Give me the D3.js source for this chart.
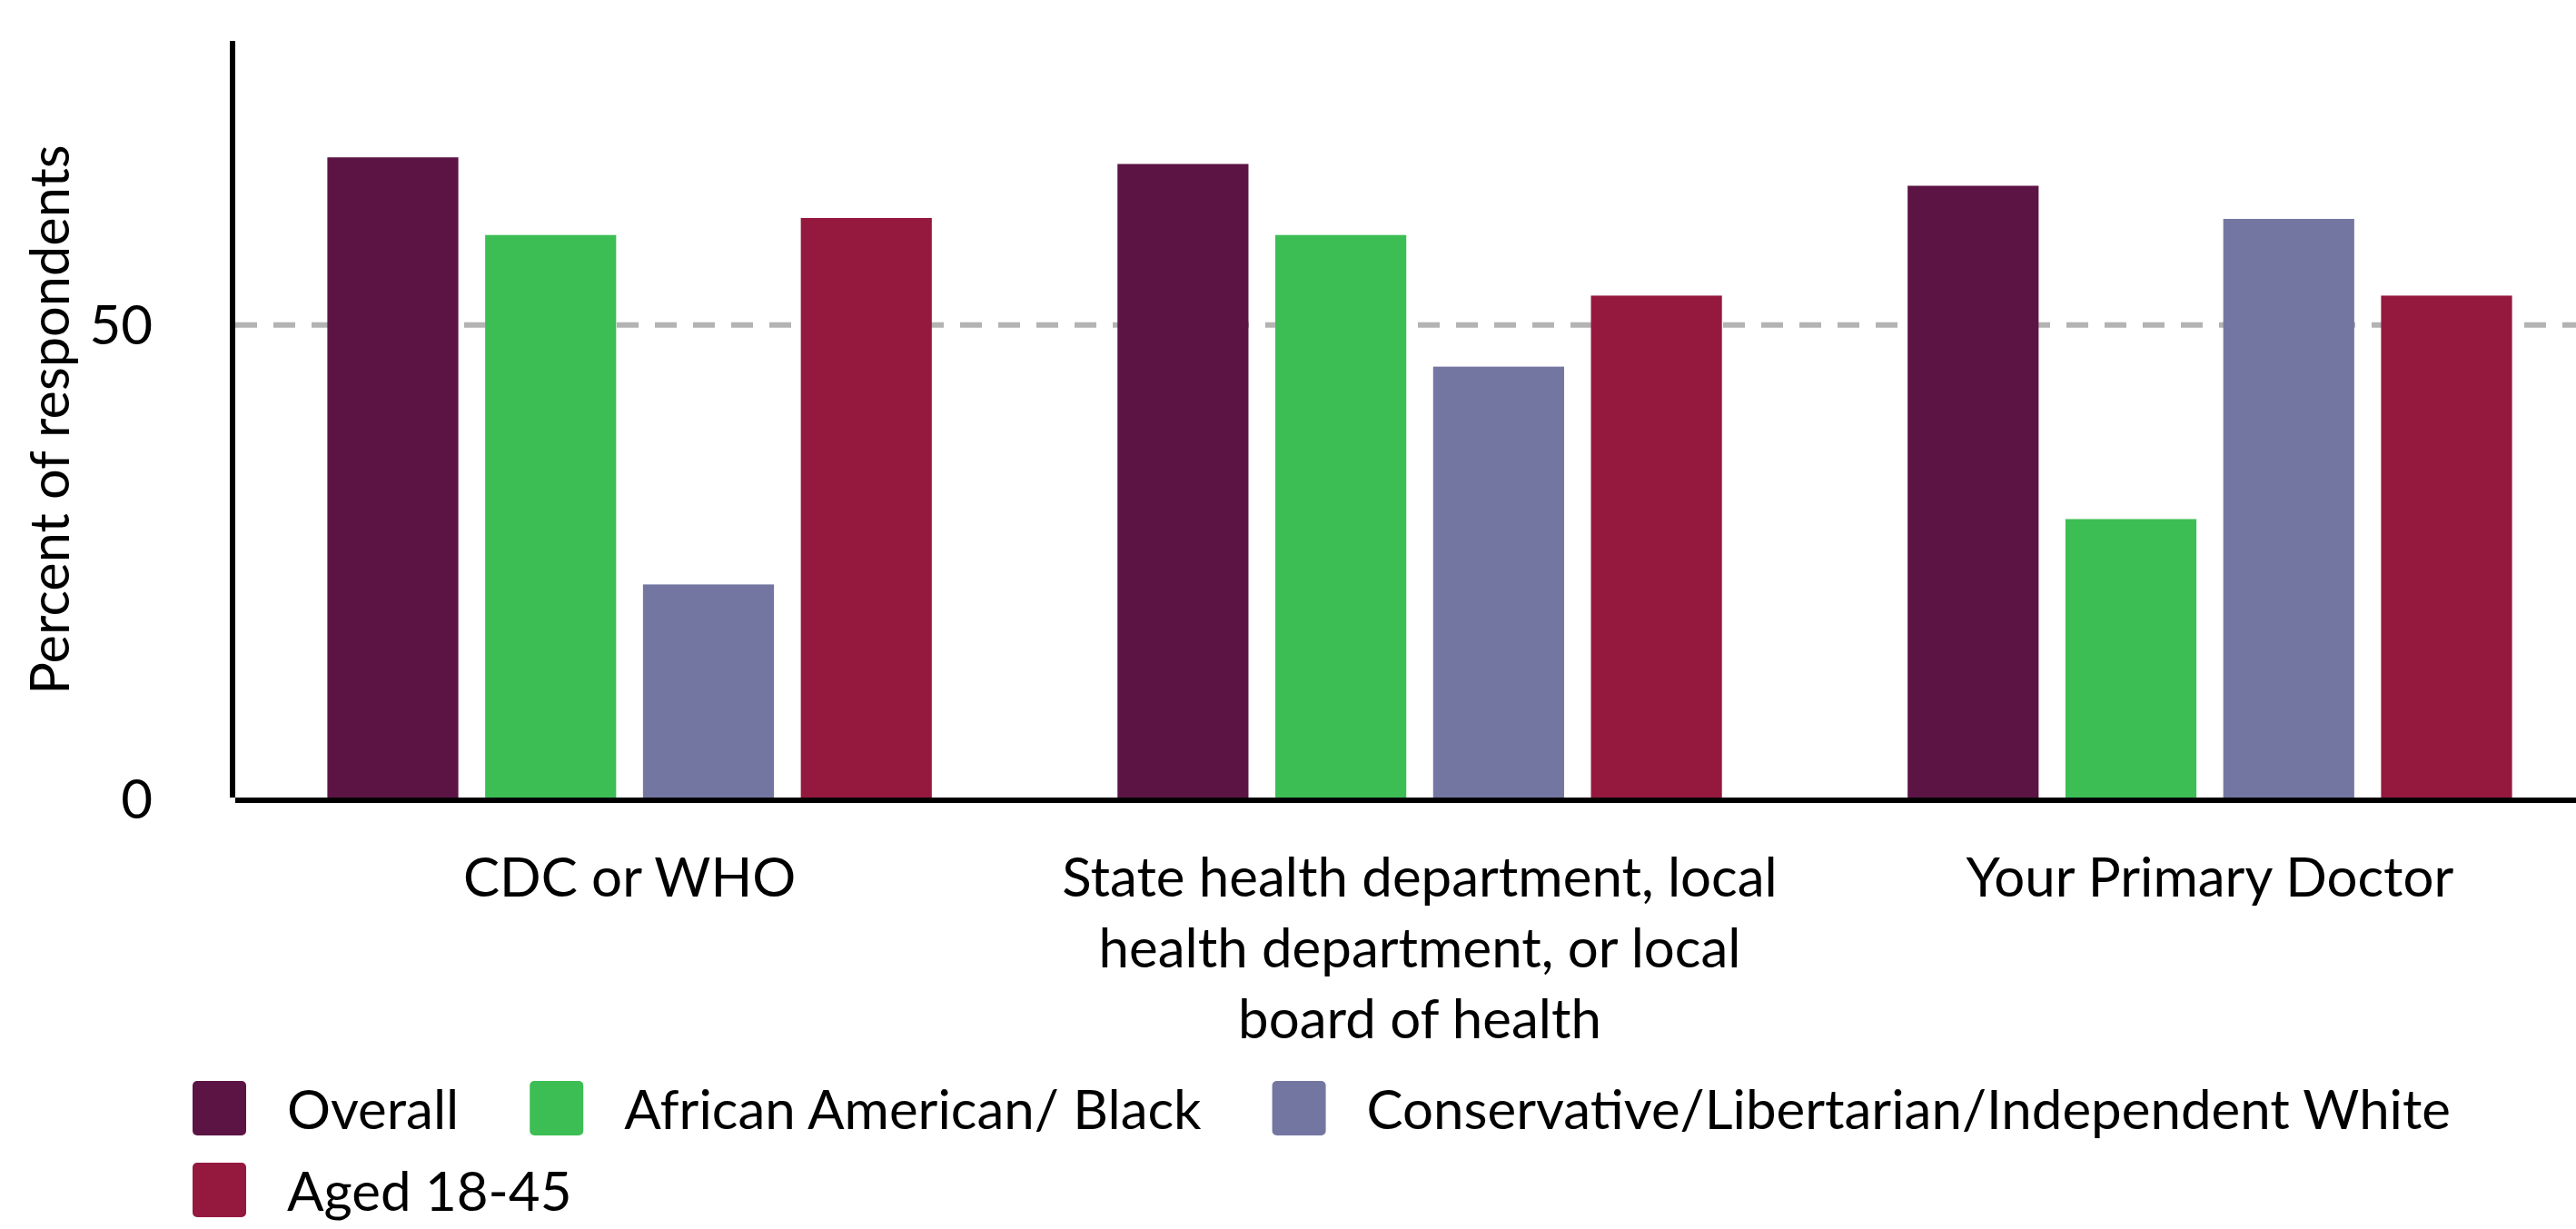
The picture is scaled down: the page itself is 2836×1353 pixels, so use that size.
<!DOCTYPE html>
<html>
<head>
<meta charset="utf-8">
<script src="https://cdn.jsdelivr.net/npm/d3@7"></script>
<style>
  body { margin: 0; background: #fff; }
  text { font-family: Lato, "Open Sans", sans-serif; fill: #000; }
</style>
</head>
<body>
<div id="chart"></div>
<script>
// data
const categories = ['CDC or WHO', 'State health department, local health department, or local board of health', 'Your Primary Doctor'];
const seriesNames = ['Overall', 'African American/ Black', 'Conservative/Libertarian/Independent White', 'Aged 18-45'];
const seriesColors = ['#5c1445', '#3cbe54', '#7476a2', '#95193f'];
const overall = [67.7, 67.0, 64.7];
const africanAmerican = [59.5, 59.5, 29.5];
const conservativeWhite = [22.6, 45.6, 61.2];
const aged18to45 = [61.3, 53.1, 53.1];
const yTicks = [0, 50];
const refLine = 50;

const width = 2836, height = 1353;
const seriesValues = [overall, africanAmerican, conservativeWhite, aged18to45];

const svg = d3.select('#chart').append('svg')
  .attr('width', width)
  .attr('height', height);

const axisX = 256, baseY = 879, topY = 45;

let y = d3.scaleLinear().domain([0, 80]).range([baseY, topY]);

let x0 = d3.scaleBand()
  .domain(categories)
  .range([axisX, 2870])
  .paddingInner(0.235)
  .paddingOuter(0.12);

let x1 = d3.scaleBand()
  .domain(seriesNames)
  .range([0, x0.bandwidth()])
  .paddingInner(0.17)
  .paddingOuter(0);

// reference line (behind bars)
svg.append('line')
  .attr('x1', axisX + 3).attr('x2', width)
  .attr('y1', y(refLine)).attr('y2', y(refLine))
  .attr('stroke', '#b3b3b3')
  .attr('stroke-width', 6)
  .attr('stroke-dasharray', '24,18');

// bars
let rows = [];
categories.forEach(function(c, i) {
  seriesNames.forEach(function(s, j) {
    rows.push({cat: c, series: s, value: seriesValues[j][i], color: seriesColors[j]});
  });
});

svg.append('g').selectAll('rect')
  .data(rows)
  .enter().append('rect')
  .attr('x', function(d) { return x0(d.cat) + x1(d.series); })
  .attr('y', function(d) { return y(d.value); })
  .attr('width', x1.bandwidth())
  .attr('height', function(d) { return baseY - y(d.value); })
  .style('fill', function(d) { return d.color; });

// axes lines
svg.append('line')
  .attr('x1', axisX).attr('x2', axisX)
  .attr('y1', topY).attr('y2', baseY - 1)
  .attr('stroke', '#000').attr('stroke-width', 6);

svg.append('line')
  .attr('x1', axisX + 3).attr('x2', width)
  .attr('y1', baseY + 2).attr('y2', baseY + 2)
  .attr('stroke', '#000').attr('stroke-width', 6);

// y ticks
svg.append('g').selectAll('text')
  .data(yTicks)
  .enter().append('text')
  .attr('x', 168)
  .attr('y', function(d) { return y(d); })
  .attr('dy', '0.36em')
  .attr('text-anchor', 'end')
  .style('font-size', '60px')
  .text(function(d) { return d; });

// y title
svg.append('text')
  .attr('transform', 'translate(55,' + ((topY + baseY) / 2) + ') rotate(-90)')
  .attr('text-anchor', 'middle')
  .attr('dy', '0.36em')
  .style('font-size', '59.5px')
  .text('Percent of respondents');

// x category labels, wrapped
let catLabels = svg.append('g').selectAll('text')
  .data(categories)
  .enter().append('text')
  .attr('x', function(d) { return x0(d) + x0.bandwidth() / 2; })
  .attr('y', 987)
  .attr('text-anchor', 'middle')
  .style('font-size', '60px')
  .each(function(d) { wrap(d3.select(this), d, 860, 78); });

function wrap(textSel, str, maxW, lineH) {
  let words = str.split(' ');
  let line = [];
  let xPos = textSel.attr('x');
  let tspan = textSel.append('tspan').attr('x', xPos).attr('dy', 0);
  words.forEach(function(w) {
    line.push(w);
    tspan.text(line.join(' '));
    if (tspan.node().getComputedTextLength() > maxW && line.length > 1) {
      line.pop();
      tspan.text(line.join(' '));
      line = [w];
      tspan = textSel.append('tspan').attr('x', xPos).attr('dy', lineH).text(w);
    }
  });
}

// legend
let legend = svg.append('g');
let lx = 212, ly = 1190;
const swatch = 60, rowH = 90, maxX = 2780;
seriesNames.forEach(function(s, j) {
  let g = legend.append('g');
  g.append('rect')
    .attr('width', swatch - 1).attr('height', swatch)
    .attr('rx', 5)
    .style('fill', seriesColors[j]);
  let t = g.append('text')
    .attr('x', 104)
    .attr('y', 53)
    .style('font-size', '60px')
    .text(s);
  let w = 104 + t.node().getComputedTextLength();
  if (lx + w > maxX) {
    lx = 212;
    ly += rowH;
  }
  g.attr('transform', 'translate(' + lx + ',' + ly + ')');
  lx += w + 78;
});
</script>
</body>
</html>
